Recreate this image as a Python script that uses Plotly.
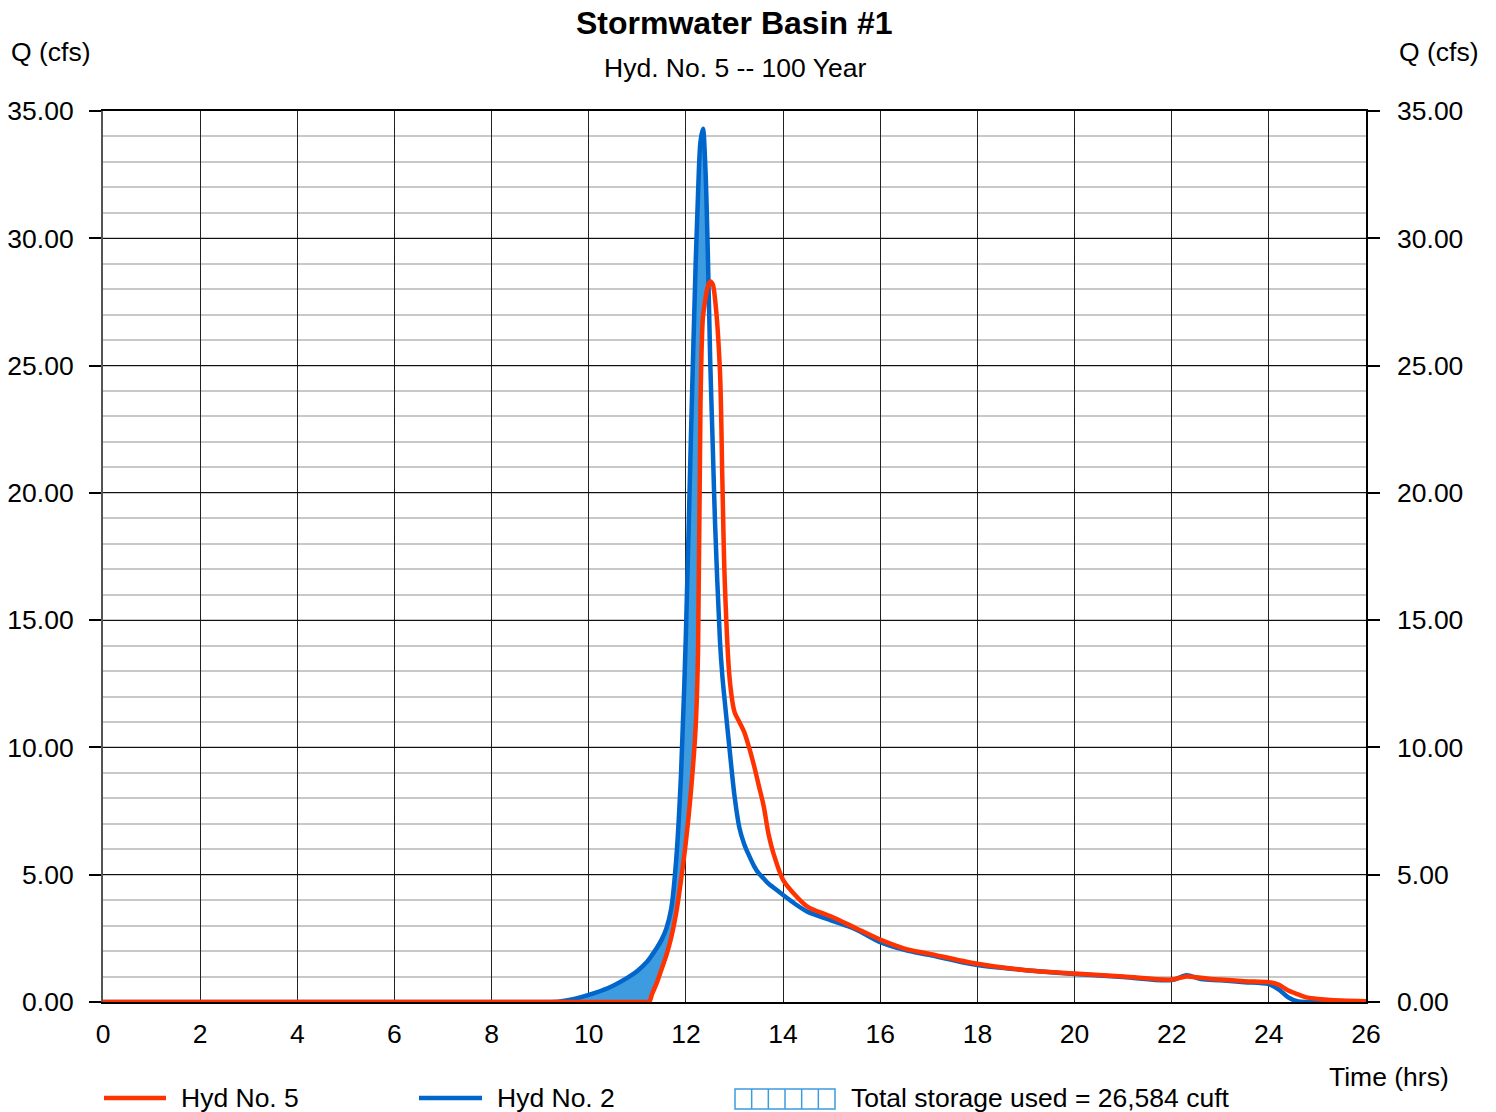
import numpy as np
import plotly.graph_objects as go

# tempo (ore)
t_hrs = [0, 9.0, 9.4, 9.7, 10.0, 10.4, 10.8, 11.0, 11.2, 11.25,
         11.3, 11.4, 11.5, 11.6, 11.7, 11.8, 11.9, 12.0, 12.1, 12.2,
         12.25, 12.3, 12.35, 12.4, 12.45, 12.5, 12.55, 12.6, 12.7, 12.75, 12.8,
         12.9, 13.0, 13.1, 13.2, 13.3, 13.4, 13.5, 13.6, 13.7, 13.8,
         14.0, 14.25, 14.5, 15.0, 15.5, 16.0, 16.5, 17.0, 18.0, 19.0,
         20.0, 21.0, 22.0, 22.3, 22.6, 23.0, 23.5, 24.0, 24.2, 24.4,
         24.6, 24.8, 25.0, 25.5, 26.0]

# Hyd No. 2 (inflow)
q_hyd2 = [0, 0, 0.02, 0.12, 0.28, 0.55, 0.96, 1.22, 1.58, 1.7,
          1.84, 2.12, 2.45, 2.9, 3.7, 5.6, 9.0, 14.5, 22.0, 29.0,
          31.8, 33.8, 34.3, 32.8, 29.5, 25.2, 22.0, 18.8, 14.2, 12.8, 11.8,
          9.9, 8.1, 6.85, 6.2, 5.75, 5.35, 5.05, 4.85, 4.65, 4.5,
          4.2, 3.85, 3.55, 3.2, 2.85, 2.35, 2.05, 1.85, 1.45, 1.25,
          1.1, 0.98, 0.86, 1.05, 0.9, 0.85, 0.78, 0.7, 0.5, 0.18,
          0.02, 0, 0, 0, 0]

# Hyd No. 5 (outflow)
q_hyd5 = [0, 0, 0, 0, 0, 0, 0, 0, 0, 0.02,
          0.3, 0.75, 1.3, 1.85, 2.55, 3.5, 4.8, 6.3, 8.2, 10.8,
          13.8, 23.5, 26.9, 27.6, 28.1, 28.3, 28.2, 27.6, 24.8, 20.5, 16.5,
          12.7, 11.4, 11.0, 10.6, 10.0, 9.3, 8.5, 7.7, 6.6, 5.85,
          4.8, 4.2, 3.75, 3.35, 2.9, 2.45, 2.1, 1.9, 1.5, 1.25,
          1.12, 1.0, 0.88, 1.0, 0.95, 0.88, 0.82, 0.78, 0.68, 0.45,
          0.3, 0.17, 0.12, 0.06, 0.03]

x_ticks = list(range(0, 27, 2))
y_ticks = [0, 5, 10, 15, 20, 25, 30, 35]
y_labels = [f"{v:.2f}" for v in y_ticks]

ROSSO = '#ff3300'
BLU = '#0066cc'
AZZURRO = '#3d9be0'
FONT = 'Liberation Sans, Arial, sans-serif'
FS = 26.5
SMOOTH = 0.9

# la pagina ha 8px di margine sul body: compenso
OFF = 8
W, H = 1496 - 2 * OFF, 1112 - OFF
ML, MT = 103 - OFF, 111 - OFF
PW, PH = 1263, 891
MR = W - ML - PW
MB = H - MT - PH

upper = np.maximum(np.array(q_hyd2), np.array(q_hyd5))

fig = go.Figure()

# area di storage (tra outflow e inflow)
fig.add_trace(go.Scatter(x=t_hrs, y=q_hyd5, mode='lines', line=dict(width=0, shape='spline', smoothing=SMOOTH),
                         showlegend=False, hoverinfo='skip'))
fig.add_trace(go.Scatter(x=t_hrs, y=upper, mode='lines', line=dict(width=0, shape='spline', smoothing=SMOOTH),
                         fill='tonexty', fillcolor=AZZURRO, showlegend=False, hoverinfo='skip'))

fig.add_trace(go.Scatter(x=t_hrs, y=q_hyd2, mode='lines', name='Hyd No. 2',
                         line=dict(color=BLU, width=4.5, shape='spline', smoothing=SMOOTH), showlegend=False))
fig.add_trace(go.Scatter(x=t_hrs, y=q_hyd5, mode='lines', name='Hyd No. 5',
                         line=dict(color=ROSSO, width=4.5, shape='spline', smoothing=SMOOTH), showlegend=False))

# traccia invisibile per l'asse destro
fig.add_trace(go.Scatter(x=[0, 26], y=[0, 35], yaxis='y2', mode='lines', line=dict(width=0),
                         showlegend=False, hoverinfo='skip'))

# legenda disegnata a mano sotto il grafico (coordinate pixel del riferimento)
def px_x(px):
    return (px - 103) / PW

def px_y(py):
    return (1002 - py) / PH

shapes = []
ly = px_y(1098)
for x0, x1, col in [(104, 166, ROSSO), (419, 482, BLU)]:
    shapes.append(dict(type='line', xref='paper', yref='paper', x0=px_x(x0), x1=px_x(x1), y0=ly, y1=ly,
                       line=dict(color=col, width=4.5)))
bx0, bx1 = 735, 835
by0, by1 = px_y(1089), px_y(1109)
shapes.append(dict(type='rect', xref='paper', yref='paper', x0=px_x(bx0), x1=px_x(bx1), y0=by0, y1=by1,
                   line=dict(color=AZZURRO, width=1.5)))
for i in range(1, 6):
    xx = px_x(bx0 + i * (bx1 - bx0) / 6)
    shapes.append(dict(type='line', xref='paper', yref='paper', x0=xx, x1=xx, y0=by0, y1=by1,
                       line=dict(color=AZZURRO, width=1.5)))

annotations = [
    dict(text='<b>Stormwater Basin #1</b>', xref='paper', yref='paper', x=0.5, y=1, yshift=88,
         showarrow=False, font=dict(size=32, color='black'), yanchor='middle'),
    dict(text='Hyd. No. 5 -- 100 Year', xref='paper', yref='paper', x=0.5, y=1, yshift=43,
         showarrow=False, font=dict(size=FS, color='black'), yanchor='middle'),
    dict(text='Q (cfs)', xref='paper', yref='paper', x=0, y=1, xanchor='left', xshift=-94, yshift=59,
         showarrow=False, font=dict(size=FS, color='black'), yanchor='middle'),
    dict(text='Q (cfs)', xref='paper', yref='paper', x=1, y=1, xanchor='left', xshift=31, yshift=59,
         showarrow=False, font=dict(size=FS, color='black'), yanchor='middle'),
    dict(text='Time (hrs)', xref='paper', yref='paper', x=1, y=0, xanchor='right', xshift=85, yshift=-75,
         showarrow=False, font=dict(size=FS, color='black'), yanchor='middle'),
    dict(text='Hyd No. 5', xref='paper', yref='paper', x=px_x(179), y=ly, xanchor='left', yanchor='middle',
         showarrow=False, font=dict(size=FS, color='black')),
    dict(text='Hyd No. 2', xref='paper', yref='paper', x=px_x(495), y=ly, xanchor='left', yanchor='middle',
         showarrow=False, font=dict(size=FS, color='black')),
    dict(text='Total storage used = 26,584 cuft', xref='paper', yref='paper', x=px_x(849), y=ly,
         xanchor='left', yanchor='middle', showarrow=False, font=dict(size=FS, color='black')),
]

fig.update_layout(
    width=W, height=H,
    paper_bgcolor='white', plot_bgcolor='white',
    font=dict(family=FONT, size=FS, color='black'),
    margin=dict(l=ML, r=MR, t=MT, b=MB, autoexpand=False),
    showlegend=False,
    shapes=shapes,
    annotations=annotations,
    xaxis=dict(
        range=[0, 26], tickvals=x_ticks, ticktext=[str(v) for v in x_ticks],
        showgrid=True, gridcolor='#222222', gridwidth=1, zeroline=False,
        showline=True, linecolor='black', linewidth=1.5, mirror=True,
        ticks='', ticklabelstandoff=7, automargin=False,
    ),
    yaxis=dict(
        range=[0, 35], tickvals=y_ticks, ticktext=y_labels,
        showgrid=True, gridcolor='#111111', gridwidth=1, zeroline=False,
        showline=True, linecolor='#555555', linewidth=2,
        ticks='outside', ticklen=12, tickcolor='black', tickwidth=1.5,
        ticklabelstandoff=10, automargin=False,
        minor=dict(dtick=1, showgrid=True, gridcolor='#c8c8c8', gridwidth=2, ticks=''),
    ),
    yaxis2=dict(
        range=[0, 35], tickvals=y_ticks, ticktext=y_labels, overlaying='y', side='right',
        showgrid=False, zeroline=False, showline=True, linecolor='black', linewidth=1.5,
        ticks='outside', ticklen=12, tickcolor='black', tickwidth=1.5, ticklabelstandoff=12,
        automargin=False,
    ),
)

fig.write_html("out.html")
